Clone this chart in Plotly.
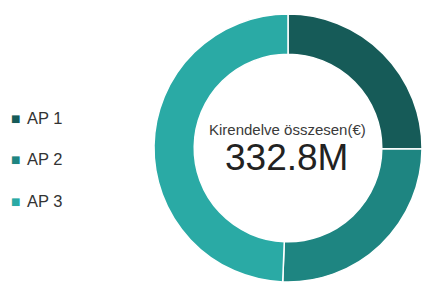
import plotly.graph_objects as go

labels = ["AP 1", "AP 2", "AP 3"]
values = [83.6, 84.9, 164.3]
colors = ["#165b58", "#1e8581", "#2aaaa5"]
center_title = "Kirendelve összesen(€)"
center_value = "332.8M"

W, H = 422, 284
cx, cy, r = 288, 148, 134
FONT = "Liberation Sans, Arial, sans-serif"

fig = go.Figure(go.Pie(
    labels=labels, values=values, hole=0.70, sort=False, direction="clockwise",
    marker=dict(colors=colors, line=dict(color="#ffffff", width=1.5)),
    textinfo="none", hoverinfo="label+value", showlegend=False,
    domain=dict(x=[(cx - r) / W, (cx + r) / W], y=[(H - cy - r) / H, (H - cy + r) / H]),
))

ann = [
    dict(x=287.5 / W, y=(H - 130) / H, xref="paper", yref="paper", text=center_title,
         xanchor="center", yanchor="middle",
         showarrow=False, font=dict(family=FONT, size=15, color="#3a3a3a")),
    dict(x=286 / W, y=(H - 157.5) / H, xref="paper", yref="paper", text=center_value,
         xanchor="center", yanchor="middle",
         showarrow=False, font=dict(family=FONT, size=37, color="#222222")),
]
leg_y = [118, 159, 201]
for lab, col, yy in zip(labels, colors, leg_y):
    ann.append(dict(x=15.5 / W, y=(H - yy) / H, xref="paper", yref="paper",
                    xanchor="center", yanchor="middle", text="■", showarrow=False,
                    font=dict(family="DejaVu Sans", size=10, color=col)))
    ann.append(dict(x=25 / W, y=(H - yy) / H, xref="paper", yref="paper",
                    xanchor="left", yanchor="middle", text=lab, showarrow=False,
                    font=dict(family=FONT, size=16.5, color="#333333")))

fig.update_layout(width=W, height=H, margin=dict(l=0, r=0, t=0, b=0),
                  paper_bgcolor="white", plot_bgcolor="white", annotations=ann)
fig.write_html("out.html", config={"displayModeBar": False},
               post_script="document.body.style.margin='0px';")
